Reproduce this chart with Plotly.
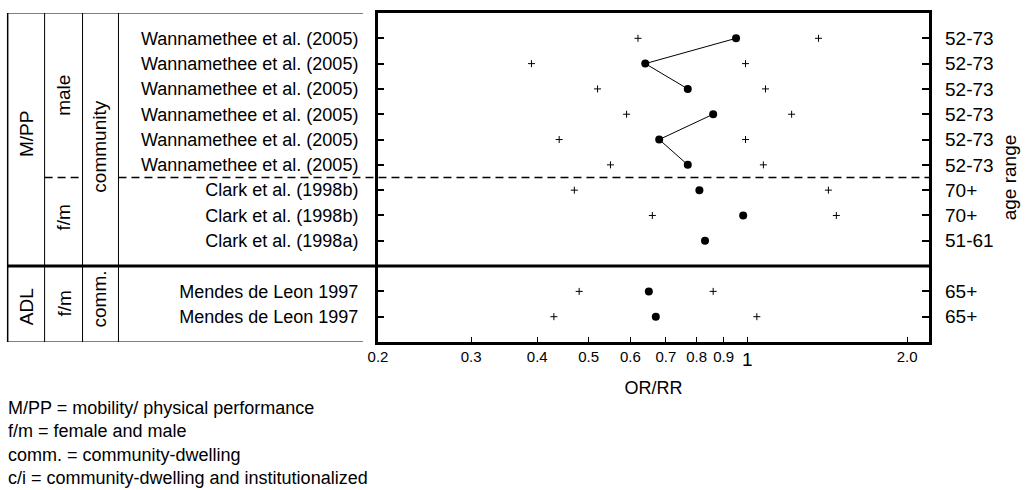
import math
import plotly.graph_objects as go

# ---------------- data ----------------
studies = [
    "Wannamethee et al. (2005)", "Wannamethee et al. (2005)", "Wannamethee et al. (2005)",
    "Wannamethee et al. (2005)", "Wannamethee et al. (2005)", "Wannamethee et al. (2005)",
    "Clark et al. (1998b)", "Clark et al. (1998b)", "Clark et al. (1998a)",
    "Mendes de Leon 1997", "Mendes de Leon 1997",
]
age_ranges = ["52-73", "52-73", "52-73", "52-73", "52-73", "52-73",
              "70+", "70+", "51-61", "65+", "65+"]
estimate = [0.95, 0.64, 0.77, 0.86, 0.68, 0.77, 0.81, 0.98, 0.83, 0.65, 0.67]
lower = [0.62, 0.39, 0.52, 0.59, 0.44, 0.55, 0.47, 0.66, None, 0.48, 0.43]
upper = [1.36, 0.99, 1.08, 1.21, 0.99, 1.07, 1.42, 1.47, None, 0.86, 1.04]
connected_groups = [[0, 1, 2], [3, 4, 5]]
group_sizes = [9, 2]          # M/PP studies, ADL studies
x_tick_vals = [0.2, 0.3, 0.4, 0.5, 0.6, 0.7, 0.8, 0.9, 1, 2]
x_tick_text = ["0.2", "0.3", "0.4", "0.5", "0.6", "0.7", "0.8", "0.9", "", "2.0"]
footnotes = [
    "M/PP = mobility/ physical performance",
    "f/m = female and male",
    "comm. = community-dwelling",
    "c/i = community-dwelling and institutionalized",
]

# row positions (a spacer slot between the two outcome groups)
rows = list(range(1, group_sizes[0] + 1)) + \
    list(range(group_sizes[0] + 2, group_sizes[0] + 2 + group_sizes[1]))
sep_row = group_sizes[0] + 1
n_slots = sep_row + group_sizes[1] + 1

# ---------------- layout geometry ----------------
W, H = 1027, 490
L, R, T, B = 378, 97, 10, 148
PW = W - L - R
PH = H - T - B
FONT = "Arial, Liberation Sans, sans-serif"


def xp(px):
    return (px - L) / PW


def yp(py):
    return 1 - (py - T) / PH


fig = go.Figure()

# connecting lines
cx, cy = [], []
for g in connected_groups:
    for i in g:
        cx.append(estimate[i])
        cy.append(rows[i])
    cx.append(None)
    cy.append(None)
fig.add_trace(go.Scatter(x=cx, y=cy, mode="lines",
                         line=dict(color="black", width=1), hoverinfo="skip"))

# confidence limits
ci_x, ci_y = [], []
for r, lo, hi in zip(rows, lower, upper):
    for v in (lo, hi):
        if v is not None:
            ci_x.append(v)
            ci_y.append(r)
fig.add_trace(go.Scatter(x=ci_x, y=ci_y, mode="markers",
                         marker=dict(symbol="cross-thin", size=5,
                                     line=dict(color="black", width=1))))

# point estimates
fig.add_trace(go.Scatter(x=estimate, y=rows, mode="markers",
                         marker=dict(symbol="circle", size=8, color="black")))

# invisible trace for the right axis
fig.add_trace(go.Scatter(x=estimate, y=rows, yaxis="y2", mode="markers",
                         marker=dict(opacity=0), hoverinfo="skip"))

shapes = []
thin = dict(color="black", width=1)
# table frame
shapes.append(dict(type="line", xref="paper", yref="y", x0=xp(7), x1=xp(363), y0=0, y1=0, line=thin))
shapes.append(dict(type="line", xref="paper", yref="y", x0=xp(7), x1=xp(363), y0=n_slots, y1=n_slots, line=thin))
shapes.append(dict(type="line", xref="paper", yref="y", x0=xp(7), x1=xp(7), y0=0, y1=n_slots,
                   line=dict(color="black", width=1.5)))
for cxp in (44, 82, 118):
    shapes.append(dict(type="line", xref="paper", yref="y", x0=xp(cxp), x1=xp(cxp), y0=0, y1=n_slots, line=thin))
# thick separator
shapes.append(dict(type="line", xref="paper", yref="y", x0=xp(7), x1=1, y0=sep_row, y1=sep_row,
                   line=dict(color="black", width=3)))
# dashed separator between male and f/m
dash_row = 6.5
dline = dict(color="black", width=1.5, dash="8px,5px")
shapes.append(dict(type="line", xref="paper", yref="y", x0=xp(44), x1=xp(82), y0=dash_row, y1=dash_row, line=dline))
shapes.append(dict(type="line", xref="paper", yref="y", x0=xp(118), x1=1, y0=dash_row, y1=dash_row, line=dline))
# reference line at 1
shapes.append(dict(type="line", xref="x", yref="paper", x0=math.log10(1), x1=math.log10(1), y0=0, y1=1,
                   line=dict(color="black", width=3)))

annotations = []


def vlabel(text, px, row):
    annotations.append(dict(text=text, xref="paper", yref="y", x=xp(px), y=row,
                            textangle=-90, showarrow=False, xanchor="center", yanchor="middle",
                            font=dict(family=FONT, size=19, color="black")))


vlabel("M/PP", 26, 4.8)
vlabel("male", 63, 3.25)
vlabel("f/m", 63, 8.1)
vlabel("community", 99, 5.3)
vlabel("ADL", 26, 11.6)
vlabel("f/m", 63, 11.5)
vlabel("comm.", 99, 11.3)

# tick label "1" (larger, slightly lower)
annotations.append(dict(text="1", xref="x", yref="paper", x=math.log10(1), y=yp(347),
                        xanchor="center", yanchor="top", showarrow=False,
                        font=dict(family=FONT, size=19, color="black")))

# footnotes
annotations.append(dict(text="<br>".join(footnotes), xref="paper", yref="paper",
                        x=xp(5), y=yp(396), xanchor="left", yanchor="top", align="left",
                        showarrow=False, font=dict(family=FONT, size=18, color="black")))

fig.update_layout(
    width=W, height=H,
    margin=dict(l=L, r=R, t=T, b=B),
    paper_bgcolor="white", plot_bgcolor="white",
    showlegend=False,
    font=dict(family=FONT, color="black"),
    shapes=shapes,
    annotations=annotations,
    xaxis=dict(
        type="log", range=[math.log10(0.2), math.log10(2.2)],
        tickvals=x_tick_vals, ticktext=x_tick_text,
        ticks="inside", ticklen=5, tickwidth=1, tickcolor="black",
        showline=True, linewidth=3, linecolor="black", mirror=True,
        showgrid=False, zeroline=False, ticklabelstandoff=-1,
        tickfont=dict(family=FONT, size=15, color="black"),
        title=dict(text="OR/RR", font=dict(family=FONT, size=18, color="black"), standoff=18),
    ),
    yaxis=dict(
        range=[n_slots, 0], tickvals=rows, ticktext=studies,
        ticks="inside", ticklen=6, tickwidth=1.5, tickcolor="black",
        showline=True, linewidth=3, linecolor="black", mirror=True,
        showgrid=False, zeroline=False, ticklabelstandoff=13,
        tickfont=dict(family=FONT, size=18, color="black"),
    ),
    yaxis2=dict(
        overlaying="y", side="right", anchor="x",
        range=[n_slots, 0], tickvals=rows, ticktext=age_ranges,
        ticks="inside", ticklen=7, tickwidth=1.5, tickcolor="black",
        showline=False, showgrid=False, zeroline=False, ticklabelstandoff=15,
        tickfont=dict(family=FONT, size=19, color="black"),
        title=dict(text="age range", font=dict(family=FONT, size=19, color="black"), standoff=10),
    ),
)

fig.write_html("out.html")
